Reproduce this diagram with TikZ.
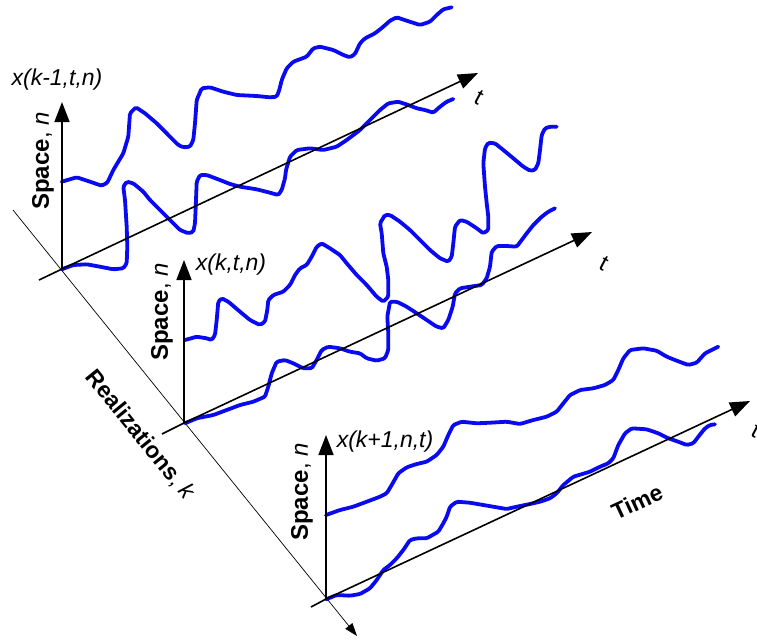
\documentclass[tikz,border=0pt]{standalone}
\usepackage{fontspec}
\setmainfont{Liberation Sans}
\usetikzlibrary{arrows.meta}
\tikzset{
  axis/.style={line width=1.6pt, -{Triangle[length=20pt,width=15pt]}},
  tail/.style={line width=1.6pt},
  kaxis/.style={line width=0.7pt, -{Triangle[length=13pt,width=9pt]}},
  sig/.style={line width=3.8pt, color=sigblue, line join=round, line cap=round, rounded corners=1.5pt},
  lbl/.style={font=\fontsize{23}{27}\selectfont, inner sep=0pt},
  slbl/.style={font=\fontsize{24}{28}\selectfont, inner sep=0pt, rotate=90},
  tlbl/.style={font=\fontsize{23}{27}\selectfont, inner sep=0pt, rotate=-28},
}
\definecolor{sigblue}{RGB}{10,10,240}
\begin{document}
\begin{tikzpicture}[x=1pt,y=-1pt]
\useasboundingbox (0,0) rectangle (757,641);
% realizations axis
\coordinate (ks) at (13,210);
\coordinate (ke) at (357,636);
\draw[kaxis] (ks) -- (ke);
% origins
\coordinate (o1) at (62,269);
\coordinate (o2) at (184,423);
\coordinate (o3) at (326,599);
% vertical axis tips
\coordinate (v1) at (62,102);
\coordinate (v2) at (184,260);
\coordinate (v3) at (326,435);
% time axis tips and tails
\coordinate (h1) at (478,73);
\coordinate (h2) at (592,232);
\coordinate (h3) at (750,401);
\coordinate (b1) at (39,280);
\coordinate (b2) at (162,434);
\coordinate (b3) at (311,607);
% curves (drawn first, under axes)
\draw[sig] plot coordinates {(61.7,181.7) (76.7,177.3) (90,181.7) (101.7,185.7) (107.3,182.7) (113.3,170) (123.3,153.3) (128.3,136.7) (130,113.3) (136,107.3) (145,113.3) (156.7,123.3) (170,136.7) (178.3,145) (183.3,147.3) (190,146.7) (193.3,140) (195,123.3) (196.7,100) (201.7,88.3) (210,87.3) (223.3,91.7) (236.7,95) (256.7,96) (270,97.3) (276.7,96.7) (279.3,90) (281.7,80) (286.7,68.3) (293.3,61.7) (306.7,56.7) (313.3,48.3) (320,46.7) (333.3,50) (343.3,55) (350,57.3) (355,54) (360,43.3) (365,38.3) (375,33.3) (383.3,26.7) (390,20.7) (396.7,17.3) (406.7,20.7) (420,25) (430,21.7) (436.7,15) (443.3,9.3) (451.7,7.3)};
\draw[sig] plot coordinates {(61.7,269.3) (73.3,265) (86.7,264.3) (100,266.7) (113.3,269.3) (123.3,268.3) (126.7,263.3) (127.3,246.7) (126.7,226.7) (125,200) (123.3,186.7) (126.7,181.7) (133.3,183.3) (143.3,191.7) (150,200) (160,210) (170,220) (180,230) (188.3,233.3) (193.3,231.7) (195,223.3) (196,200) (196.7,181.7) (200,175) (206.7,175) (220,180) (230,184) (240,186.7) (256.7,189.3) (270,192.7) (278.3,195) (281.7,190) (285,178.3) (286,170) (290,156.7) (296.7,150) (310,148.3) (323.3,150) (336.7,146.7) (346.7,140) (360,130) (370,120) (380,110) (388.3,103.3) (398.3,101.7) (408.3,105) (416.7,108.3) (425,110) (433.3,112.7) (440,106.7) (446.7,101.7) (453.3,99)};
\draw[sig] plot coordinates {(185,340) (196.7,336.7) (206.7,338.3) (211.7,340) (215,335) (216.7,320) (218.3,301.7) (221.7,298.3) (228.3,301.7) (240,311.7) (250,320) (260,325) (265,321.7) (267.3,310) (268.3,300) (273.3,295) (283.3,291.7) (290,285) (295,275) (300,268.3) (306.7,265) (311.7,256.7) (316.7,246.7) (321.7,243.3) (330,248.3) (340,255) (346.7,263.3) (356.7,275) (366.7,285) (376.7,296.7) (383.3,301.7) (388.3,296.7) (388.3,280) (386.7,266.7) (383.3,253.3) (381.7,233.3) (380,223.3) (385,215) (390,215) (400,221.7) (410,230) (420,240) (430,250) (440,258.3) (448.3,261.7) (451.7,256.7) (453.3,243.3) (455,226.7) (460,220) (466.7,221.7) (476.7,228.3) (483.3,233.3) (488.3,230) (488.3,216.7) (486.7,203.3) (485,186.7) (483.3,163.3) (485,148.3) (488.3,142.7) (495,143.3) (503.3,150) (513.3,158.3) (523.3,166.7) (530,170.7) (535,170) (538.3,163.3) (540,150) (541.7,135) (545,128.3) (550,126.7) (556.7,126.7)};
\draw[sig] plot coordinates {(185,423.3) (196.7,418.3) (213.3,415) (226.7,410) (240,405) (253.3,401.7) (265,396.7) (268.3,386.7) (271.7,373.3) (276.7,361.7) (285,360) (293.3,363.3) (303.3,368.3) (311.7,368.3) (316.7,360) (321.7,350) (328.3,346.7) (340,348.3) (350,351.7) (360,353.3) (366.7,358.3) (376.7,360.7) (385,358.3) (388.3,350) (388.3,333.3) (387.3,316.7) (390,301.7) (396.7,301.7) (406.7,306.7) (416.7,313.3) (426.7,320) (436.7,326.7) (443.3,328.3) (448.3,320) (452.7,306.7) (455,293.3) (460,288.3) (470,286.7) (481.7,285) (486.7,278.3) (490,266.7) (491.7,251.7) (496.7,246) (506.7,246) (516.7,246.7) (521.7,240) (526.7,233.3) (533.3,225) (541.7,216.7) (548.3,211.7) (555,208.3)};
\draw[sig] plot coordinates {(326,515) (340,510) (353.3,506.7) (366.7,501.7) (380,496.7) (386.7,493.3) (391.7,485) (398.3,473.3) (406.7,467.3) (416.7,464) (426.7,461.7) (436.7,455) (443.3,446.7) (448.3,435) (453.3,425) (461.7,421.7) (476.7,423.3) (490,422.7) (506.7,421.7) (520,424) (533.3,420) (546.7,416.7) (556.7,411.7) (563.3,403.3) (570,395) (580,390) (593.3,388.3) (605,385) (613.3,380) (618.3,370) (623.3,358.3) (630,350) (643.3,348.3) (656.7,350.7) (666.7,356.7) (676.7,360.7) (688.3,365) (696.7,362.7) (705,353.3) (711.7,350) (718.3,346.7)};
\draw[sig] plot coordinates {(326,599.3) (336.7,595) (350,595.7) (360,594) (370,588.3) (376.7,580) (383.3,570) (390,565) (396.7,558.3) (403.3,550) (410,540) (416.7,538.3) (426.7,538.3) (438.3,531.7) (443.3,523.3) (446.7,516.7) (450,506.7) (456.7,501.7) (470,502.7) (483.3,505) (496.7,507.3) (506.7,509) (516.7,506.7) (530,504) (540,501.7) (550,498.3) (556.7,493.3) (563.3,485) (573.3,476.7) (590,471.7) (600,466.7) (608.3,463.3) (613.3,458.3) (618.3,445) (625,433.3) (631.7,428.3) (646.7,429.3) (658.3,433.3) (668.3,438.3) (678.3,441.7) (686.7,445) (693.3,443.3) (698.3,436.7) (705,428.3) (710,425) (715,424.3)};
% axes
\foreach \i in {1,2,3}{
  \draw[axis] (o\i) -- (v\i);
  \draw[axis] (o\i) -- (h\i);
  \draw[tail] (o\i) -- (b\i);
}
% labels
\node[lbl] (xl1) at (57,80) {\itshape x(k-1,t,n)};
\node[lbl] (xl2) at (231,265) {\itshape x(k,t,n)};
\node[lbl] (xl3) at (385,442) {\itshape x(k+1,n,t)};
\node[slbl] (s1) at (43,161) {\bfseries Space\mdseries, \itshape n};
\node[slbl] (s2) at (162,312) {\bfseries Space\mdseries, \itshape n};
\node[slbl] (s3) at (302,492) {\bfseries Space\mdseries, \itshape n};
\node[tlbl] (t1) at (479,98) {t};
\node[tlbl] (t2) at (604,264) {t};
\node[tlbl] (t3) at (756,431) {t};
\node[lbl,rotate=25] (time) at (637,502) {\bfseries Time};
\node[lbl,rotate=-51] (real) at (140,435) {\bfseries Realizations\mdseries, \itshape k};
\end{tikzpicture}
\end{document}
